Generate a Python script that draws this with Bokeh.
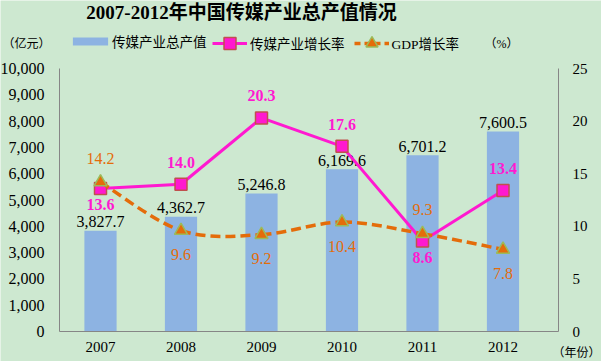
import numpy as np
from bokeh.plotting import figure
from bokeh.models import (Range1d, LinearAxis, FixedTicker, NumeralTickFormatter, Label,
                          Legend, LegendItem, ColumnDataSource)
from bokeh.core.properties import value
from bokeh.embed import file_html
from bokeh.resources import INLINE

# ---- data ----
years = [2007, 2008, 2009, 2010, 2011, 2012]
output_value = [3827.7, 4362.7, 5246.8, 6169.6, 6701.2, 7600.5]   # 亿元
media_growth = [13.6, 14.0, 20.3, 17.6, 8.6, 13.4]                # %
gdp_growth = [14.2, 9.6, 9.2, 10.4, 9.3, 7.8]                     # %
left_ticks = [0, 1000, 2000, 3000, 4000, 5000, 6000, 7000, 8000, 9000, 10000]
right_ticks = [0, 5, 10, 15, 20, 25]
x_ticks = years
# label placement: -1 above the point, 1 below
media_label_side = [1, -1, -1, -1, 1, -1]
gdp_label_side = [-1, 1, 1, 1, -1, 1]

title_text = "2007-2012年中国传媒产业总产值情况"
series_names = ["传媒产业总产值", "传媒产业增长率", "GDP增长率"]
left_unit = "（亿元）"
right_unit = "（%）"
x_unit = "（年份）"

# ---- styles / geometry ----
BG = "#cde8d0"
BAR = "#8db3e2"
MAG = "#ff19d0"
SQ_EDGE = "#c0504d"
ORANGE = "#e46c0a"
TRI_EDGE = "#9bbb59"
AXIS = "#868686"
SERIF = "Liberation Serif"
CJK = "Liberation Serif, Noto Sans CJK SC"

W, H = 601, 361            # canvas = frame
PX_PER_YEAR = 80.5
X_FIRST_PX = 100           # canvas x of first category
Y0_PX = 331                # canvas y of value 0
PLOT_H = 263               # px from 0 to axis max
LEFT_MAX, RIGHT_MAX = 10000, 25

x_start = years[0] - X_FIRST_PX / PX_PER_YEAR
x_end = x_start + W / PX_PER_YEAR
ax_left_x = years[0] - 41 / PX_PER_YEAR
ax_right_x = years[-1] + 55.5 / PX_PER_YEAR
y_lo = -(H - Y0_PX) / PLOT_H * LEFT_MAX
y_hi = Y0_PX / PLOT_H * LEFT_MAX
p_lo = -(H - Y0_PX) / PLOT_H * RIGHT_MAX
p_hi = Y0_PX / PLOT_H * RIGHT_MAX

p = figure(width=W, height=H, output_backend="svg", toolbar_location=None,
           x_range=Range1d(x_start, x_end), y_range=Range1d(y_lo, y_hi),
           min_border=0, min_border_left=0, min_border_right=0,
           min_border_top=0, min_border_bottom=0)
p.background_fill_color = BG
p.border_fill_color = BG
p.outline_line_color = None
p.grid.visible = False
p.extra_y_ranges = {"pct": Range1d(p_lo, p_hi)}

right_axis = LinearAxis(y_range_name="pct")
p.add_layout(right_axis, "right")

for ax, fs in [(p.xaxis[0], "15px"), (p.yaxis[0], "16px"), (right_axis, "15px")]:
    ax.axis_line_color = AXIS
    ax.axis_line_width = 1
    ax.major_tick_line_color = None
    ax.minor_tick_line_color = None
    ax.major_tick_out = 0
    ax.major_tick_in = 0
    ax.minor_tick_out = 0
    ax.minor_tick_in = 0
    ax.major_label_text_font = SERIF
    ax.major_label_text_font_size = fs
    ax.major_label_text_color = "black"

p.xaxis[0].ticker = FixedTicker(ticks=x_ticks)
p.xaxis[0].formatter = NumeralTickFormatter(format="0")
p.xaxis[0].major_label_standoff = 10
p.xaxis[0].fixed_location = 0
p.xaxis[0].bounds = (ax_left_x, ax_right_x)
p.yaxis[0].ticker = FixedTicker(ticks=left_ticks)
p.yaxis[0].formatter = NumeralTickFormatter(format="0,0")
p.yaxis[0].major_label_standoff = 15
p.yaxis[0].fixed_location = ax_left_x
p.yaxis[0].bounds = (0, LEFT_MAX)
right_axis.ticker = FixedTicker(ticks=right_ticks)
right_axis.formatter = NumeralTickFormatter(format="0")
right_axis.major_label_standoff = 14
right_axis.fixed_location = ax_right_x
right_axis.bounds = (0, RIGHT_MAX)

# bars
bars = p.vbar(x=years, top=output_value, width=0.4, fill_color=BAR, line_color=None)
p.text(x=years, y=output_value, text=[f"{v:,.1f}" for v in output_value],
       text_align="center", text_baseline="alphabetic", y_offset=-9,
       text_font=value(SERIF), text_font_size="16px", text_color="black")

# media growth line
mline = p.line(years, media_growth, y_range_name="pct", line_color=MAG, line_width=3)
msq = p.scatter(years, media_growth, y_range_name="pct", marker="square", size=12,
                fill_color=MAG, line_color=SQ_EDGE, line_width=1.5)

# GDP growth smoothed curve (Catmull-Rom as bezier segments)
gx = np.array(years, dtype=float)
gy = np.array(gdp_growth, dtype=float)
xp = np.concatenate([[gx[0]], gx, [gx[-1]]])
yp = np.concatenate([[gy[0]], gy, [gy[-1]]])
n = len(gx)
x0 = xp[1:n]; y0 = yp[1:n]
x1 = xp[2:n + 1]; y1 = yp[2:n + 1]
cx0 = xp[1:n] + (xp[2:n + 1] - xp[0:n - 1]) / 6.0
cy0 = yp[1:n] + (yp[2:n + 1] - yp[0:n - 1]) / 6.0
cx1 = xp[2:n + 1] - (xp[3:n + 2] - xp[1:n]) / 6.0
cy1 = yp[2:n + 1] - (yp[3:n + 2] - yp[1:n]) / 6.0
p.bezier(x0=x0, y0=y0, x1=x1, y1=y1, cx0=cx0, cy0=cy0, cx1=cx1, cy1=cy1,
         y_range_name="pct", line_color=ORANGE, line_width=3.5, line_dash="10 5")
gproxy = p.line(years, gdp_growth, y_range_name="pct", line_color=ORANGE, line_width=3.5,
                line_dash="6 4", visible=False)
gtri = p.scatter(years, gdp_growth, y_range_name="pct", marker="triangle", size=13,
                 fill_color=ORANGE, line_color=TRI_EDGE, line_width=1.5)

# growth labels
msrc = ColumnDataSource(dict(x=years, y=media_growth,
                             t=[f"{v:.1f}" for v in media_growth],
                             dy=[(-22 if s < 0 else 16) for s in media_label_side]))
p.text(x="x", y="y", text="t", y_offset="dy", source=msrc, y_range_name="pct",
       text_align="center", text_baseline="middle", text_font=value(SERIF),
       text_font_size="16px", text_font_style="bold", text_color=MAG)
gsrc = ColumnDataSource(dict(x=years, y=gdp_growth,
                             t=[f"{v:.1f}" for v in gdp_growth],
                             dy=[(-24 if s < 0 else 24) for s in gdp_label_side]))
p.text(x="x", y="y", text="t", y_offset="dy", source=gsrc, y_range_name="pct",
       text_align="center", text_baseline="middle", text_font=value(SERIF),
       text_font_size="16px", text_color=ORANGE)


def styled_legend(items, loc, gw, gh, standoff):
    lg = Legend(items=items, orientation="horizontal", location=loc)
    lg.background_fill_alpha = 0
    lg.border_line_color = None
    lg.label_text_font = CJK
    lg.label_text_font_size = "13.5px"
    lg.label_text_color = "black"
    lg.label_text_baseline = "middle"
    lg.glyph_width = gw
    lg.glyph_height = gh
    lg.label_standoff = standoff
    lg.spacing = 9
    lg.padding = 0
    lg.margin = 0
    return lg


# legends (two, so that the bar swatch stays thin while the markers stay large)
p.add_layout(styled_legend([LegendItem(label=series_names[0], renderers=[bars])],
                           (68, 310), 44, 10, 0))
p.add_layout(styled_legend([LegendItem(label=series_names[1], renderers=[mline, msq]),
                            LegendItem(label=series_names[2], renderers=[gproxy, gtri])],
                           (212, 303), 35, 30, 3))

# title and unit labels (screen units, from frame bottom-left)
p.add_layout(Label(x=241, y=349, x_units="screen", y_units="screen", text=title_text,
                   text_align="center", text_baseline="middle", text_font=CJK,
                   text_font_style="bold", text_font_size="19px", text_color="black"))
p.add_layout(Label(x=2, y=318, x_units="screen", y_units="screen", text=left_unit,
                   text_align="left", text_baseline="middle", text_font=CJK,
                   text_font_size="12px", text_color="black"))
p.add_layout(Label(x=501, y=318, x_units="screen", y_units="screen", text=right_unit,
                   text_align="center", text_baseline="middle", text_font=CJK,
                   text_font_size="12px", text_color="black"))
p.add_layout(Label(x=600, y=9, x_units="screen", y_units="screen", text=x_unit,
                   text_align="right", text_baseline="middle", text_font=CJK,
                   text_font_size="12px", text_color="black"))

open("out.html", "w").write(file_html(p, INLINE))
